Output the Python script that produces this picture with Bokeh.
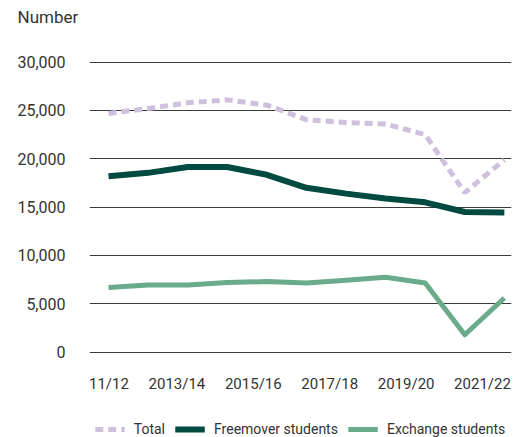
from bokeh.plotting import figure
from bokeh.models import (Range1d, LinearAxis, FixedTicker, NumeralTickFormatter,
                          Legend, LegendItem, ColumnDataSource, Grid)
from bokeh.core.properties import value
from bokeh.embed import file_html
from bokeh.resources import INLINE

years = ["2011/12", "2012/13", "2013/14", "2014/15", "2015/16", "2016/17",
         "2017/18", "2018/19", "2019/20", "2020/21", "2021/22"]
total = [24700, 25200, 25800, 26100, 25550, 24050, 23750, 23600, 22500, 16500, 19900]
freemover = [18200, 18550, 19150, 19150, 18350, 17000, 16400, 15900, 15500, 14500, 14450]
exchange = [6700, 6950, 6950, 7200, 7300, 7150, 7450, 7750, 7150, 1800, 5600]
y_ticks = [0, 5000, 10000, 15000, 20000, 25000, 30000]
label_years = years[::2]
label_pos = list(range(0, len(years), 2))

idx = list(range(len(years)))
src = ColumnDataSource(dict(x=idx, total=total, freemover=freemover, exchange=exchange))

FONT = "Roboto"
TXT = "#333333"
X_LABEL_Y = -3300  # vertical place of the year labels, below the 0 line

p = figure(frame_width=422, frame_height=385, output_backend="svg", toolbar_location=None,
           x_axis_type=None, y_axis_type=None,
           x_range=Range1d(-0.48, 10.18), y_range=Range1d(-8828, 31000),
           min_border_left=89, min_border_right=14, min_border_top=52, min_border_bottom=0)
p.outline_line_color = None
p.background_fill_color = "white"

p.extra_x_ranges = {"lab": Range1d(-0.288, 10.759)}

yaxis = LinearAxis(ticker=FixedTicker(ticks=y_ticks),
                   formatter=NumeralTickFormatter(format="0,0"))
yaxis.axis_line_color = None
yaxis.major_tick_line_color = None
yaxis.minor_tick_line_color = None
yaxis.major_tick_out = 0
yaxis.major_label_standoff = 24
yaxis.major_label_text_font = FONT
yaxis.major_label_text_font_size = "16px"
yaxis.major_label_text_color = TXT
p.add_layout(yaxis, "left")

grid = Grid(dimension=1, ticker=FixedTicker(ticks=y_ticks),
            grid_line_color="#3a3a3a", grid_line_width=1)
p.add_layout(grid)

# year labels along the bottom
lab_src = ColumnDataSource(dict(x=label_pos, y=[X_LABEL_Y] * len(label_pos), text=label_years))
p.text("x", "y", text="text", source=lab_src, x_range_name="lab",
       text_font=value(FONT), text_font_size=value("15px"), text_color=TXT,
       text_align="center", text_baseline="middle")

r_total = p.line("x", "total", source=src, line_color="#cfc0dd", line_width=5,
                 line_dash="8 5")
r_free = p.line("x", "freemover", source=src, line_color="#004a3f", line_width=6,
                line_join="round")
r_exch = p.line("x", "exchange", source=src, line_color="#6aab8b", line_width=5,
                line_join="round")

legend = Legend(items=[LegendItem(label="Total", renderers=[r_total]),
                       LegendItem(label="Freemover students", renderers=[r_free]),
                       LegendItem(label="Exchange students", renderers=[r_exch])],
                orientation="horizontal", location="bottom_center")
legend.border_line_color = None
legend.background_fill_alpha = 0
legend.label_text_font = FONT
legend.label_text_font_size = "14px"
legend.label_text_color = TXT
legend.glyph_width = 30
legend.glyph_height = 14
legend.label_height = 14
legend.label_standoff = 9
legend.spacing = 10
legend.padding = 0
legend.margin = 0
p.add_layout(legend)

p.title.text = "Number\n "
p.title.align = "left"
p.title.vertical_align = "top"
p.title.text_font = FONT
p.title.text_font_size = "17px"
p.title.text_font_style = "normal"
p.title.text_color = TXT
p.title.offset = -72
p.title.standoff = 8

open("out.html", "w").write(file_html(p, INLINE))
